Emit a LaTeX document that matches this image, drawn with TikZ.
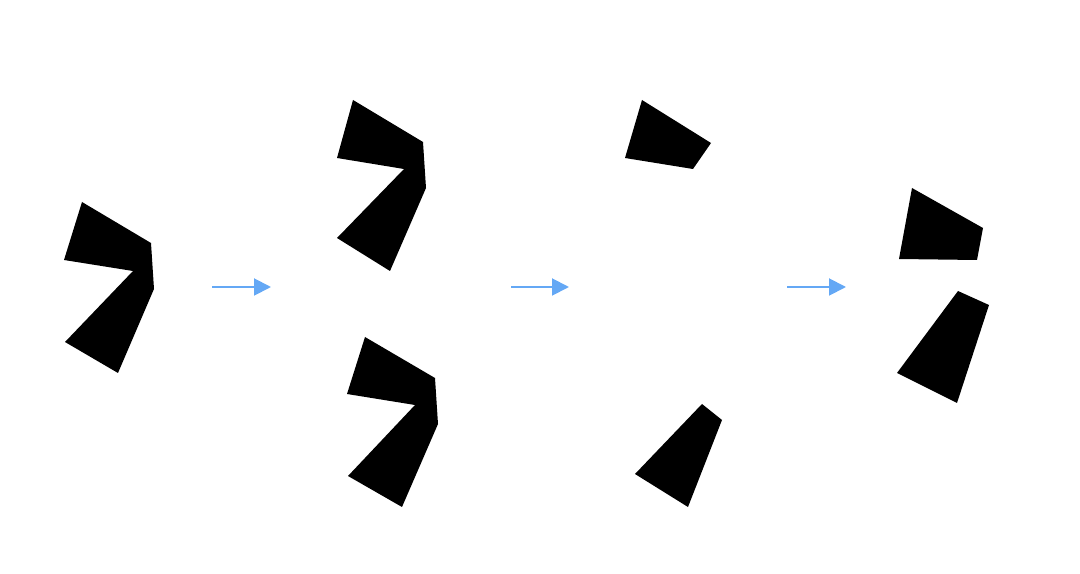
\documentclass[tikz,border=0pt]{standalone}
\usepackage{xcolor}
\usepackage{tikz}
\usetikzlibrary{arrows.meta,positioning}
\definecolor{arrowblue}{RGB}{100,168,245}

\begin{document}
\begin{tikzpicture}[
  x=0.02cm, y=-0.02cm,
  piece/.style={fill=black, draw=none},
  arrow/.style={-{Triangle[length=3.4mm, width=3.4mm]}, draw=arrowblue, line width=1.1pt}
]
\useasboundingbox (0,0) rectangle (1080,574);

% Pieces
\fill[piece] (82,202) -- (151,243) -- (154,289) -- (118,373) -- (65,342) -- (133,271) -- (64,260) -- cycle;
\fill[piece] (353,100) -- (423,142) -- (426,188) -- (390,271) -- (337,238) -- (404,169) -- (337,158) -- cycle;
\fill[piece] (365,337) -- (435,378) -- (438,424) -- (402,507) -- (348,476) -- (415,405) -- (347,394) -- cycle;
\fill[piece] (642,100) -- (711,143) -- (693,169) -- (625,158) -- cycle;
\fill[piece] (702,404) -- (722,420) -- (688,507) -- (635,474) -- cycle;
\fill[piece] (912,188) -- (983,228) -- (977,260) -- (899,259) -- cycle;
\fill[piece] (958,291) -- (989,305) -- (957,403) -- (897,373) -- cycle;

% Arrows
\coordinate (s1) at (212,287);
\coordinate (e1) at (271,287);
\coordinate (s2) at (511,287);
\coordinate (e2) at (569,287);
\coordinate (s3) at (787,287);
\coordinate (e3) at (846,287);
\draw[arrow] (s1) -- (e1);
\draw[arrow] (s2) -- (e2);
\draw[arrow] (s3) -- (e3);

\end{tikzpicture}
\end{document}
